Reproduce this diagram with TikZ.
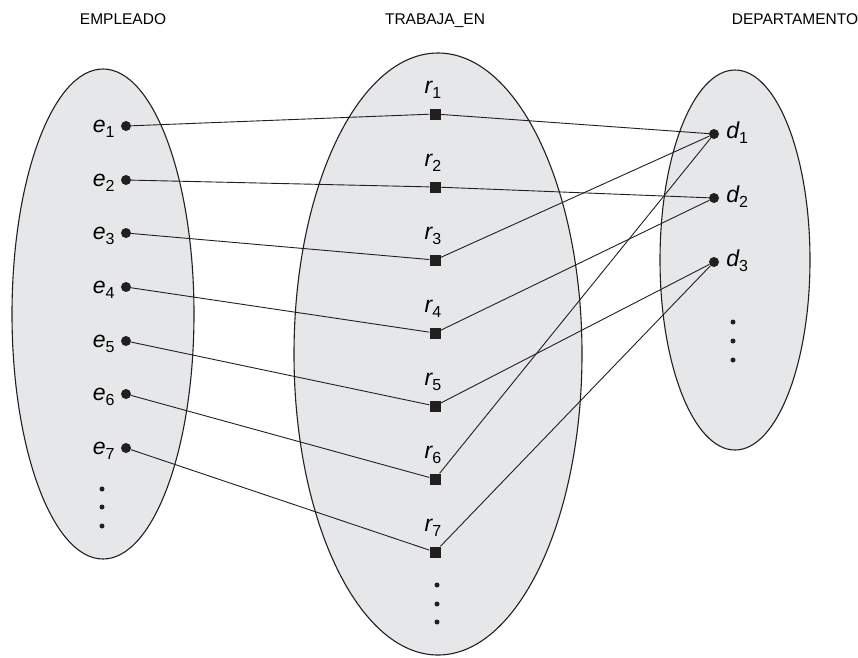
\documentclass[tikz,border=0pt]{standalone}
\usepackage{fontspec}
\setmainfont{Liberation Sans}
\definecolor{ink}{HTML}{231F20}
\definecolor{setfill}{HTML}{E6E7E8}
\newcommand{\elemlbl}[2]{{\fontsize{23}{26}\selectfont\itshape #1}\raisebox{-5pt}{\fontsize{16}{19}\selectfont #2}}

\begin{document}
\begin{tikzpicture}[
	x=1pt, y=-1pt,
	set/.style={draw=ink, fill=setfill, line width=1.1pt},
	link/.style={draw=ink, line width=0.9pt},
	title/.style={font=\fontsize{15.5}{18}\selectfont, anchor=base, inner sep=0pt},
	edot/.style={circle, fill=ink, inner sep=0pt, minimum size=10pt},
	rbox/.style={rectangle, fill=ink, inner sep=0pt, minimum size=11pt},
	vdot/.style={circle, fill=ink, inner sep=0pt, minimum size=5pt},
	elbl/.style={inner sep=0pt, anchor=base east, xshift=-6pt, yshift=-6pt},
	rlbl/.style={inner sep=0pt, anchor=base, xshift=-2pt, yshift=14.5pt},
	dlbl/.style={inner sep=0pt, anchor=base west, xshift=7pt, yshift=-4pt},
]
\useasboundingbox (0,0) rectangle (858,657);

% sets
\draw [set] (103,314) ellipse [x radius=91pt, y radius=245pt];
\draw [set] (438,354) ellipse [x radius=144pt, y radius=301pt];
\draw [set] (735,260) ellipse [x radius=75pt, y radius=190pt];

\node [title] (tEmp) at (123,24) {EMPLEADO};
\node [title] (tTrab) at (435,24) {TRABAJA\_EN};
\node [title] (tDep) at (795,24) {DEPARTAMENTO};

% elements
\foreach \i/\y in {1/126,2/180,3/233,4/287,5/341,6/394,7/448}
	\node [edot, label={[elbl]left:\elemlbl{e}{\i}}] (e\i) at (126,\y) {};
\foreach \i/\y in {1/114,2/187,3/260,4/333,5/406,6/479,7/552}
	\node [rbox, label={[rlbl]above:\elemlbl{r}{\i}}] (r\i) at (435,\y) {};
\foreach \i/\y in {1/134,2/198,3/262}
	\node [edot, label={[dlbl]right:\elemlbl{d}{\i}}] (d\i) at (714,\y) {};

\foreach \y [count=\k] in {489,507,526}
	\node [vdot] (ev\k) at (102,\y) {};
\foreach \y [count=\k] in {585,604,622}
	\node [vdot] (rv\k) at (437,\y) {};
\foreach \y [count=\k] in {322,341,360}
	\node [vdot] (dv\k) at (733,\y) {};

% links
\foreach \i in {1,...,7}
	\draw [link] (e\i) -- (r\i);
\foreach \i/\j in {1/1,2/2,3/1,4/2,5/3,6/1,7/3}
	\draw [link] (r\i) -- (d\j);
\end{tikzpicture}
\end{document}
